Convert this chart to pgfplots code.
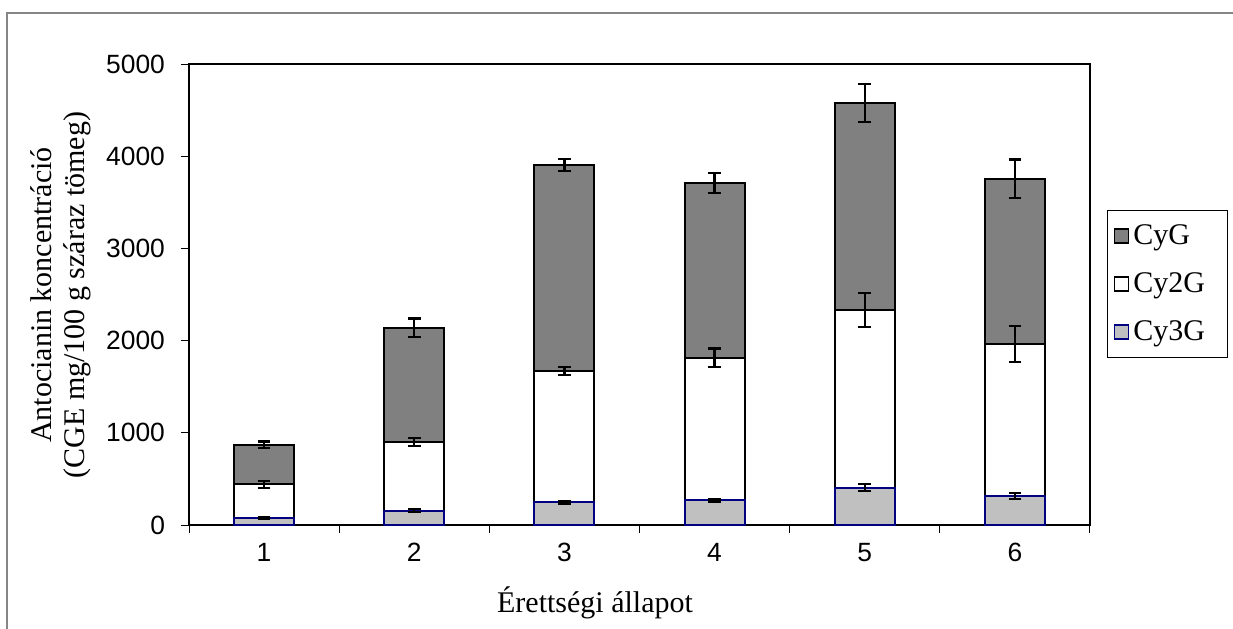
\documentclass[border=0pt]{standalone}
\usepackage{pgfplots}
\pgfplotsset{compat=1.18}
\usepackage{pgfplotstable}
\usepackage{fontspec}
\setmainfont{Liberation Serif}
\newfontfamily\arialfont{Liberation Sans}

\definecolor{cygfill}{HTML}{808080}
\definecolor{cy3gfill}{HTML}{C0C0C0}
\definecolor{navyedge}{HTML}{000080}
\definecolor{framegray}{HTML}{868686}

% ripening stage, segment heights (mg/100 g dry weight) and their errors
\pgfplotstableread{
x cy3g e3 cy2g e2 cyg eg
1 75  10 365  35  430  35
2 155 15 745  45  1240 100
3 245 12 1425 45  2235 65
4 270 15 1545 100 1895 110
5 405 40 1930 185 2240 205
6 315 30 1645 195 1795 210
}\anto

\begin{document}
\begin{tikzpicture}
\useasboundingbox (0,0) rectangle (616.5pt,-314pt);
\draw[framegray, line width=0.8pt] (3.5pt,-330pt) -- (3.5pt,-6.5pt) -- (630pt,-6.5pt);
\begin{axis}[
  at={(94.5pt,-262.5pt)}, anchor=south west,
  scale only axis, width=450.5pt, height=230.5pt,
  ybar stacked, bar width=0.4,
  xmin=0.5, xmax=6.5, ymin=0, ymax=5000,
  axis line style={black, line width=1pt},
  tick align=outside, major tick length=4pt,
  tick style={black, line width=0.5pt},
  xtick={0.5,1.5,...,6.5}, xticklabels={},
  extra x ticks={1,2,3,4,5,6},
  extra x tick labels={1,2,3,4,5,6},
  extra x tick style={major tick length=0pt, grid=none},
  ytick={0,1000,...,5000},
  xtick pos=bottom, ytick pos=left,
  /pgf/number format/assume math mode=true,
  /pgf/number format/set thousands separator={},
  ticklabel style={font=\arialfont\fontsize{13.2}{15}\selectfont},
  xticklabel style={yshift=-5.5pt},
  yticklabel style={xshift=-4.5pt},
  error bars/y dir=both, error bars/y explicit,
  error bars/error bar style={black, line width=1.1pt},
  error bars/error mark options={rotate=90, black, mark size=3.2pt, line width=1.1pt},
  legend image code/.code={\draw[#1, line width=0.9pt] (0pt,-3.5pt) rectangle (7pt,3.5pt);},
  reverse legend,
  legend cell align=left,
  legend style={at={(1.0189,0.683)}, anchor=north west, draw=black, line width=0.6pt,
    font=\fontsize{15}{17}\selectfont, row sep=8.5pt, inner xsep=3pt, inner ysep=5pt},
]
\addplot[fill=cy3gfill, draw=navyedge, line width=1pt]
  table[x=x, y=cy3g, y error=e3] {\anto};
\addlegendentry{Cy3G\hspace*{6pt}}
\addplot[fill=white, draw=black, line width=1pt]
  table[x=x, y=cy2g, y error=e2] {\anto};
\addlegendentry{Cy2G}
\addplot[fill=cygfill, draw=black, line width=1pt]
  table[x=x, y=cyg, y error=eg] {\anto};
\addlegendentry{CyG}
\end{axis}
\node[font=\fontsize{15}{17}\selectfont] at (297.5pt,-301.5pt) {Érettségi állapot};
\node[rotate=90, align=center, font=\fontsize{15}{16.5}\selectfont] at (30.5pt,-147.5pt)
  {Antocianin koncentráció\\(CGE mg/100 g száraz tömeg)};
\end{tikzpicture}
\end{document}
